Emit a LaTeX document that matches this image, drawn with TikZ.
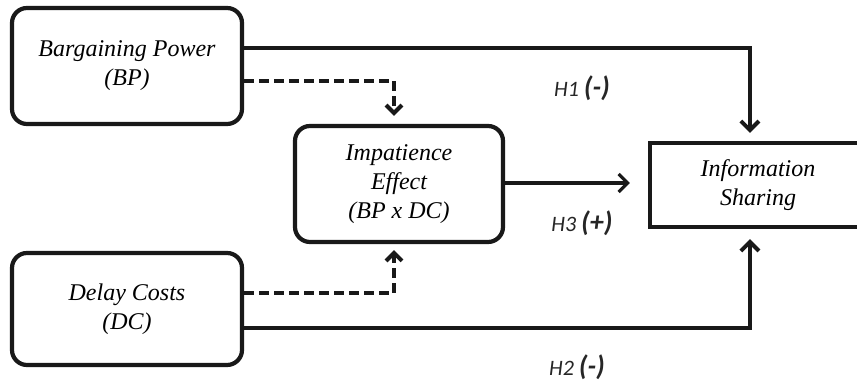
\documentclass[tikz,border=0pt]{standalone}
\usepackage{fontspec}
\setmainfont{Liberation Serif}
\newfontfamily\hfont{Carlito}
\usetikzlibrary{arrows.meta,calc}
\tikzset{
  box/.style={draw=black!90, line width=4.2pt, rounded corners=15pt, align=center,
    font=\fontsize{24}{29}\selectfont\itshape, inner sep=0pt},
  sqbox/.style={draw=black!90, line width=4.2pt, align=center,
    font=\fontsize{24}{29}\selectfont\itshape, inner sep=0pt},
  solidarrow/.style={draw=black!90, line width=4pt,
    -{Straight Barb[length=9pt,width=18pt,line width=4pt]}},
  thinarrow/.style={draw=black!90, line width=3.2pt,
    -{Straight Barb[length=9pt,width=18pt,line width=3.2pt]}},
  dasharrow/.style={draw=black!90, line width=4.5pt, dash pattern=on 10pt off 5pt,
    -{Straight Barb[length=8pt,width=16pt,line width=4pt]}},
  hlab/.style={font=\hfont\fontsize{22}{26}\selectfont\itshape, inner sep=0pt, text=black!85}
}
\begin{document}
\begin{tikzpicture}[x=1pt,y=1pt]
\useasboundingbox (0,0) rectangle (857,382);
\clip (0,0) rectangle (857,382);
\node[box, minimum width=230pt, minimum height=116pt] (bp) at (127,316) {Bargaining Power\\(BP)};
\node[box, minimum width=230pt, minimum height=112pt] (dc) at (127,73) {Delay Costs\\(DC)};
\node[box, minimum width=208pt, minimum height=116pt] (ie) at (399,198) {Impatience\\Effect\\(BP x DC)};
\node[sqbox, minimum width=216pt, minimum height=84pt] (info) at (758,197) {Information\\Sharing};

\draw[solidarrow] ([yshift=18pt]bp.east) -| ([xshift=102pt,yshift=8pt]info.north west);
\draw[dasharrow] ([yshift=-15pt]bp.east) -| ([xshift=-5pt,yshift=8pt]ie.north);
\draw[dasharrow] ([yshift=16pt]dc.east) -| ([xshift=-5pt,yshift=-6pt]ie.south);
\draw[solidarrow] ([yshift=-19pt]dc.east) -| ([xshift=102pt,yshift=-10pt]info.south west);
\draw[thinarrow] ([yshift=1pt]ie.east) -- ($(ie.east -| info.west)+(-18,1)$);

\node[hlab] (h1) at (582,294) {H1 {\bfseries\fontsize{28}{32}\selectfont (-)}};
\node[hlab] (h3) at (582,159) {H3 {\bfseries\fontsize{28}{32}\selectfont (+)}};
\node[hlab] (h2) at (577,15) {H2 {\bfseries\fontsize{28}{32}\selectfont (-)}};
\end{tikzpicture}
\end{document}
